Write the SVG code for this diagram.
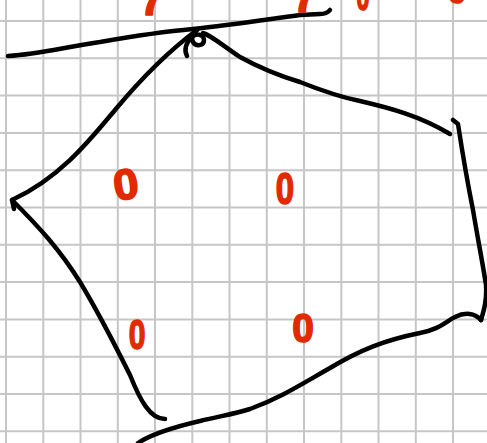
<svg xmlns="http://www.w3.org/2000/svg" width="487" height="443" viewBox="0 0 487 443">
<style>
.grid line{stroke:#c6c6c6;stroke-width:2}
.ink{fill:none;stroke:#000;stroke-width:4.5;stroke-linecap:round;stroke-linejoin:round}
.num{font-family:"Liberation Sans",Arial,sans-serif;font-weight:bold;fill:#e22a00;stroke:#e22a00;stroke-width:1.6;stroke-linejoin:round;text-anchor:middle}
</style>
<rect width="487" height="443" fill="#fff"/>
<g class="grid">
<line x1="6" y1="0" x2="6" y2="443"/><line x1="43.3" y1="0" x2="43.3" y2="443"/><line x1="80.5" y1="0" x2="80.5" y2="443"/><line x1="117.8" y1="0" x2="117.8" y2="443"/><line x1="155" y1="0" x2="155" y2="443"/><line x1="192.3" y1="0" x2="192.3" y2="443"/><line x1="229.5" y1="0" x2="229.5" y2="443"/><line x1="266.8" y1="0" x2="266.8" y2="443"/><line x1="304" y1="0" x2="304" y2="443"/><line x1="341.3" y1="0" x2="341.3" y2="443"/><line x1="378.5" y1="0" x2="378.5" y2="443"/><line x1="415.8" y1="0" x2="415.8" y2="443"/><line x1="453" y1="0" x2="453" y2="443"/>
<line x1="0" y1="21" x2="487" y2="21"/><line x1="0" y1="58.3" x2="487" y2="58.3"/><line x1="0" y1="95.6" x2="487" y2="95.6"/><line x1="0" y1="132.9" x2="487" y2="132.9"/><line x1="0" y1="170.2" x2="487" y2="170.2"/><line x1="0" y1="207.5" x2="487" y2="207.5"/><line x1="0" y1="244.8" x2="487" y2="244.8"/><line x1="0" y1="282.1" x2="487" y2="282.1"/><line x1="0" y1="319.4" x2="487" y2="319.4"/><line x1="0" y1="356.7" x2="487" y2="356.7"/><line x1="0" y1="394" x2="487" y2="394"/><line x1="0" y1="431.3" x2="487" y2="431.3"/>
</g>
<g id="strokes" class="ink">
<path d="M8,56 C40,54 60,48 100,42 C140,35 170,31 193,29 C230,25 270,19 300,15 L320,14 Q327,14 330,10"/>
<path d="M187,56 C184,50 186,43 192,37 C196,33 204,34 204,40 C204,46 196,47 193,42 C191,38 193,33 197,30"/>
<path d="M197,30 C170,50 140,80 115,110 C90,140 60,178 12,200 L14,209"/>
<path d="M12,200 C40,228 60,250 80,282 C100,315 115,345 130,375 C140,400 150,419 165,419"/>
<path d="M203,33 C212,36 222,45 240,57 C260,68 280,76 300,82 C320,90 340,97 360,101 C390,108 420,116 450,134"/>
<path d="M453,120 L458,124 C462,150 468,185 473,210 C478,240 483,265 486,285 C487,300 484,310 481,320"/>
<path d="M138,443 C150,435 170,428 200,421 C220,416 235,414 250,409 C280,398 300,385 330,368 C360,350 385,340 420,333 C440,329 445,322 455,317 C465,312 475,313 481,320"/>
</g>
<g id="labels">
<text class="num" font-size="43" transform="translate(128,199) rotate(-8) scale(1.05,1)">0</text>
<text class="num" font-size="44" transform="translate(285,204) scale(0.75,1)">0</text>
<text class="num" font-size="43" transform="translate(137,349) scale(0.7,1)">0</text>
<text class="num" font-size="41" transform="translate(303,342) scale(0.95,1)">0</text>
<text class="num" font-size="44" x="152" y="15">7</text>
<text class="num" font-size="44" x="305" y="12">7</text>
<text class="num" font-size="40" transform="translate(363,10) scale(0.6,1)">0</text>
<text class="num" font-size="40" transform="translate(457,3) scale(0.9,1)">0</text>
</g>
</svg>
